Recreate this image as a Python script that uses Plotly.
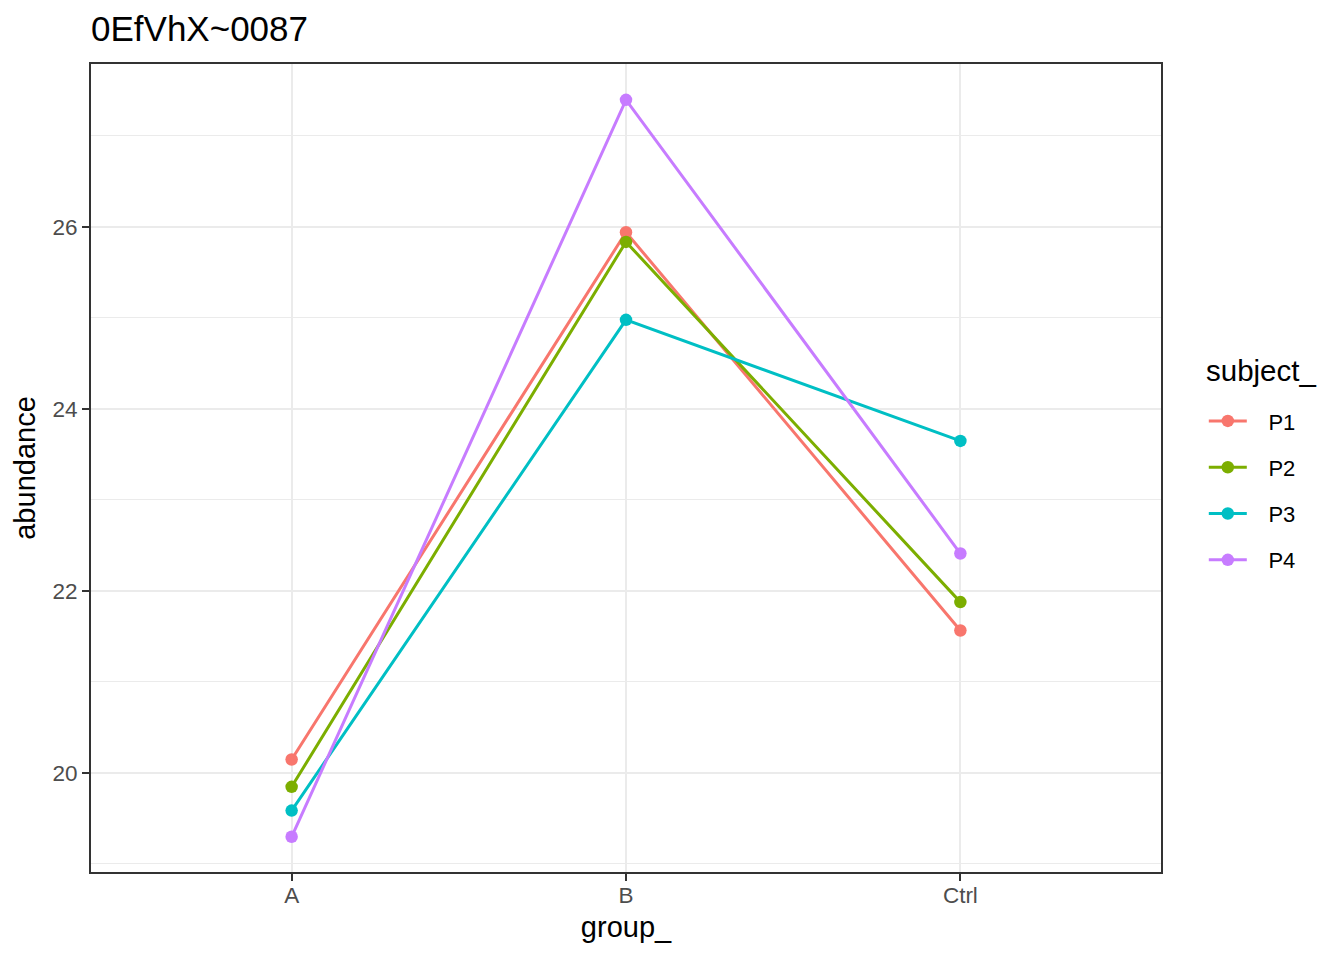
import plotly.graph_objects as go

# --- data
groups = ['A', 'B', 'Ctrl']
subjects = ['P1', 'P2', 'P3', 'P4']
p1 = [20.146, 25.941, 21.564]
p2 = [19.846, 25.835, 21.876]
p3 = [19.585, 24.978, 23.648]
p4 = [19.297, 27.396, 22.410]
y_ticks = [20, 22, 24, 26]
y_minor = [19, 21, 23, 25, 27]

colors = ['#F8766D', '#7CAE00', '#00BFC4', '#C77CFF']
series = [p1, p2, p3, p4]

W, H = 1336, 952  # page adds an 8px body margin

fig = go.Figure()
for name, vals, col in zip(subjects, series, colors):
    fig.add_trace(go.Scatter(x=groups, y=vals, mode='lines+markers',
                             name='\u00a0\u00a0\u2009' + name,  # gap between key and label
                             legendgroup=name,
                             line=dict(color=col, width=3),
                             marker=dict(color=col, size=12.5)))

fig.update_layout(
    width=W, height=H,
    margin=dict(l=83, r=183, t=56, b=88),
    plot_bgcolor='white', paper_bgcolor='white',
    font=dict(family='Liberation Sans, Arial, sans-serif', color='black'),
    title=dict(text='0EfVhX~0087', x=83/W, xanchor='left', y=1-21/H, yanchor='middle',
               font=dict(size=35, color='black')),
    showlegend=True,
    legend=dict(font=dict(size=22), x=1.040, xanchor='left', y=0.584, yanchor='top',
                tracegroupgap=14.7, itemwidth=38),
)
# legend title drawn on its own so the gap above P1 matches
fig.add_annotation(text='subject_', xref='paper', yref='paper', x=1.040, y=0.621,
                   xanchor='left', yanchor='middle', showarrow=False,
                   font=dict(size=29.5, color='black'))

fig.update_xaxes(
    type='category', range=[-0.6, 2.6],
    showgrid=True, gridcolor='#EBEBEB', gridwidth=2,
    showline=True, linecolor='#333333', linewidth=2, mirror=True,
    ticks='outside', tickcolor='#333333', ticklen=7, tickwidth=2,
    tickfont=dict(size=22.5, color='#4D4D4D'),
    ticklabelstandoff=-5,
    title=dict(text='group_', font=dict(size=29), standoff=10),
    zeroline=False,
)
fig.update_yaxes(
    range=[18.91, 27.79],
    tickvals=y_ticks, ticktext=[str(t) for t in y_ticks],
    showgrid=True, gridcolor='#EBEBEB', gridwidth=2,
    minor=dict(tickvals=y_minor, showgrid=True, gridcolor='#EBEBEB', gridwidth=1.2),
    showline=True, linecolor='#333333', linewidth=2, mirror=True,
    ticks='outside', tickcolor='#333333', ticklen=7, tickwidth=2,
    tickfont=dict(size=22.5, color='#4D4D4D'),
    title=dict(text='abundance', font=dict(size=29), standoff=8),
    zeroline=False,
)

fig.write_html('out.html')
